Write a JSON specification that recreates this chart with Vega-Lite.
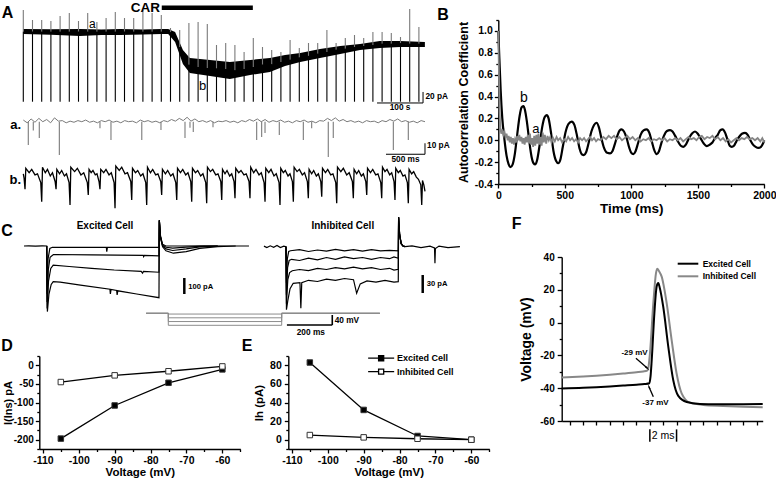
{
"$schema": "https://vega.github.io/schema/vega-lite/v6.json",
"width": 776, "height": 480,
"autosize": {"type": "none"},
"padding": 0,
"background": "#ffffff",
"config": {
  "font": "Liberation Sans",
  "view": {"stroke": null},
  "mark": {"color": "#000000"},
  "locale": {"number": {"decimal": ".", "thousands": ",", "grouping": [3], "currency": ["$", ""], "minus": "-"}},
  "axis": {"domainColor": "#000", "domainWidth": 1.4, "tickColor": "#000", "tickWidth": 1.3, "labelColor": "#000", "labelFontWeight": "bold", "titleFontWeight": "bold", "titleColor": "#000", "grid": false, "labelFlush": false, "labelOverlap": false, "labelBound": false},
  "text": {"color": "#000000", "fill": "#000000"}
},
"resolve": {"scale": {"x": "independent", "y": "independent", "fill": "independent", "stroke": "independent"}, "axis": {"x": "independent", "y": "independent"}},
"layer": [
{
  "encoding": {
    "x": {"field": "t", "type": "quantitative", "scale": {"domain": [-50.65, 1031.96], "range": [0, 498], "nice": false, "zero": false}, "axis": null},
    "y": {"field": "I", "type": "quantitative", "scale": {"domain": [-320.55, 57.64], "range": [208, 0], "nice": false, "zero": false}, "axis": null}
  },
  "layer": [
    {"data": {"values": [
      {"t":0,"I":4.9,"lo":-4.2},{"t":60,"I":4.5,"lo":-5.5},{"t":123,"I":4.9,"lo":-7.8},{"t":170,"I":4.2,"lo":-6},{"t":210,"I":4.9,"lo":-6},{"t":260,"I":4.2,"lo":-5},{"t":300,"I":4.9,"lo":-4.2},{"t":315,"I":4.9,"lo":-4.2},{"t":330,"I":-0.5,"lo":-18.7},{"t":347,"I":-33.3,"lo":-58.7},{"t":362,"I":-47.8,"lo":-75.1},{"t":406,"I":-51.5,"lo":-80.5},{"t":449,"I":-55.1,"lo":-86},{"t":493,"I":-51.5,"lo":-78.7},{"t":536,"I":-47.8,"lo":-73.3},{"t":569,"I":-42.4,"lo":-62.4},{"t":602,"I":-38.7,"lo":-55.1},{"t":645,"I":-31.5,"lo":-47.8},{"t":689,"I":-26.2,"lo":-40.5},{"t":732,"I":-22.4,"lo":-33.3},{"t":775,"I":-16.9,"lo":-29.6},{"t":819,"I":-16.9,"lo":-27.8},{"t":873,"I":-18.7,"lo":-27.8}
    ]}, "mark": {"type": "area", "color": "#000", "opacity": 1}, "encoding": {"y2": {"field": "lo"}}},
    {"data": {"values": [
      {"t":0,"I":39.5,"base":0},{"t":20,"I":21.3,"base":0},{"t":40,"I":21.3,"base":0},{"t":60,"I":19.5,"base":0},{"t":80,"I":28.5,"base":0},{"t":100,"I":34,"base":0},{"t":120,"I":19.5,"base":0},{"t":140,"I":34,"base":0},{"t":160,"I":17.6,"base":0},{"t":180,"I":24.9,"base":0},{"t":200,"I":35.8,"base":0},{"t":220,"I":24.9,"base":0},{"t":240,"I":24.9,"base":0},{"t":260,"I":39.5,"base":0},{"t":280,"I":34,"base":0},{"t":300,"I":30.4,"base":0},{"t":320,"I":6.7,"base":-1},{"t":340,"I":3.1,"base":-28},{"t":360,"I":15.8,"base":-60},{"t":380,"I":17.6,"base":-64},{"t":400,"I":14,"base":-66},{"t":420,"I":-24.2,"base":-67},{"t":440,"I":-20.5,"base":-68},{"t":460,"I":-24.2,"base":-70},{"t":480,"I":-36.9,"base":-68},{"t":500,"I":-11.5,"base":-64},{"t":520,"I":-27.8,"base":-60},{"t":540,"I":-33.3,"base":-59},{"t":560,"I":-36.9,"base":-55},{"t":580,"I":-15.1,"base":-51},{"t":600,"I":-29.6,"base":-47},{"t":620,"I":-20.5,"base":-44},{"t":640,"I":-20.5,"base":-40},{"t":660,"I":3.1,"base":-37},{"t":680,"I":-20.5,"base":-33},{"t":700,"I":-11.5,"base":-31},{"t":720,"I":-6,"base":-28},{"t":740,"I":-11.5,"base":-26},{"t":760,"I":-0.5,"base":-24},{"t":780,"I":-0.5,"base":-22},{"t":800,"I":-2.4,"base":-22},{"t":820,"I":-9.6,"base":-21},{"t":840,"I":41.3,"base":-22},{"t":860,"I":8.5,"base":-22}
    ]}, "mark": {"type": "rule", "color": "#7a7a7a", "strokeWidth": 1.1}, "encoding": {"y2": {"field": "base"}}},
    {"data": {"values": [
      {"t":0,"I":0},{"t":20,"I":0},{"t":40,"I":0},{"t":60,"I":0},{"t":80,"I":0},{"t":100,"I":0},{"t":120,"I":0},{"t":140,"I":0},{"t":160,"I":0},{"t":180,"I":0},{"t":200,"I":0},{"t":220,"I":0},{"t":240,"I":0},{"t":260,"I":0},{"t":280,"I":0},{"t":300,"I":0},{"t":320,"I":-1},{"t":340,"I":-28},{"t":360,"I":-60},{"t":380,"I":-64},{"t":400,"I":-66},{"t":420,"I":-67},{"t":440,"I":-68},{"t":460,"I":-70},{"t":480,"I":-68},{"t":500,"I":-64},{"t":520,"I":-60},{"t":540,"I":-59},{"t":560,"I":-55},{"t":580,"I":-51},{"t":600,"I":-47},{"t":620,"I":-44},{"t":640,"I":-40},{"t":660,"I":-37},{"t":680,"I":-33},{"t":700,"I":-31},{"t":720,"I":-28},{"t":740,"I":-26},{"t":760,"I":-24},{"t":780,"I":-22},{"t":800,"I":-22},{"t":820,"I":-21},{"t":840,"I":-22},{"t":860,"I":-22}
    ]}, "mark": {"type": "rule", "color": "#000", "strokeWidth": 1.1}, "encoding": {"y2": {"datum": -127.3}}},
    {"data": {"values": [{"t":301,"t2":499,"I":43.6}]}, "mark": {"type": "rule", "color": "#000", "strokeWidth": 4.5}, "encoding": {"x2": {"field": "t2"}}},
    {"data": {"values": [{"t":297,"I":43.6,"label":"CAR"}]}, "mark": {"type": "text", "color": "#000", "align": "right", "fontSize": 13.5, "fontWeight": "bold"}, "encoding": {"text": {"field": "label"}}},
    {"data": {"values": [{"t":-34.3,"I":34.9,"label":"A"},{"t":912.4,"I":30.4,"label":"B"}]}, "mark": {"type": "text", "color": "#000", "fontSize": 16, "fontWeight": "bold"}, "encoding": {"text": {"field": "label"}}},
    {"data": {"values": [{"t":150,"I":14,"label":"a"}]}, "mark": {"type": "text", "color": "#000", "fontSize": 12}, "encoding": {"text": {"field": "label"}}},
    {"data": {"values": [{"t":390,"I":-98.9,"label":"b"}]}, "mark": {"type": "text", "color": "#000", "fontSize": 13}, "encoding": {"text": {"field": "label"}}},
    {"data": {"values": [{"t":769,"I":-129.6,"t2":869,"I2":-129.6},{"t":869,"I":-129.6,"t2":869,"I2":-109.6}]}, "mark": {"type": "rule", "color": "#000", "strokeWidth": 1}, "encoding": {"x2": {"field": "t2"}, "y2": {"field": "I2"}}},
    {"data": {"values": [{"t":819,"I":-139.6,"label":"100 s"}]}, "mark": {"type": "text", "color": "#000", "fontSize": 8.3, "fontWeight": "bold"}, "encoding": {"text": {"field": "label"}}},
    {"data": {"values": [{"t":874.3,"I":-119.6,"label":"20 pA"}]}, "mark": {"type": "text", "color": "#000", "align": "left", "fontSize": 8.3, "fontWeight": "bold"}, "encoding": {"text": {"field": "label"}}}
  ]
},
{
  "encoding": {
    "x": {"field": "t", "type": "quantitative", "scale": {"domain": [-298.7, 6085.9], "range": [0, 498], "nice": false, "zero": false}, "axis": null},
    "y": {"field": "I", "type": "quantitative", "scale": {"domain": [-78.45, 110.64], "range": [208, 0], "nice": false, "zero": false}, "axis": null}
  },
  "layer": [
    {"data": {"values": [
      {"t":0,"I":1.5},{"t":50,"I":-1},{"t":100,"I":2.5},{"t":150,"I":-0.5},{"t":200,"I":3},{"t":250,"I":0},{"t":300,"I":2},{"t":350,"I":-1},{"t":400,"I":3.5},{"t":450,"I":0.5},{"t":500,"I":1},{"t":550,"I":-1},{"t":600,"I":0.5},{"t":650,"I":-0.5},{"t":700,"I":1},{"t":750,"I":0},{"t":800,"I":1.5},{"t":850,"I":-0.5},{"t":900,"I":0.5},{"t":950,"I":-1},{"t":1000,"I":1},{"t":1050,"I":0},{"t":1100,"I":1.5},{"t":1150,"I":-0.5},{"t":1200,"I":0.5},{"t":1250,"I":-1},{"t":1300,"I":1},{"t":1350,"I":0},{"t":1400,"I":0.5},{"t":1450,"I":-1},{"t":1500,"I":1.5},{"t":1550,"I":0},{"t":1600,"I":1},{"t":1650,"I":-0.5},{"t":1700,"I":0.5},{"t":1750,"I":-1},{"t":1800,"I":1},{"t":1850,"I":0},{"t":1900,"I":2},{"t":1950,"I":0.5},{"t":2000,"I":3},{"t":2050,"I":1},{"t":2100,"I":4},{"t":2150,"I":0.5},{"t":2200,"I":2.5},{"t":2250,"I":0},{"t":2300,"I":1},{"t":2350,"I":-0.5},{"t":2400,"I":1},{"t":2450,"I":-1},{"t":2500,"I":0.5},{"t":2550,"I":0},{"t":2600,"I":1},{"t":2650,"I":-0.5},{"t":2700,"I":0.5},{"t":2750,"I":-1},{"t":2800,"I":1},{"t":2850,"I":0},{"t":2900,"I":2},{"t":2950,"I":0.5},{"t":3000,"I":2.5},{"t":3050,"I":0},{"t":3100,"I":2},{"t":3150,"I":-0.5},{"t":3200,"I":1},{"t":3250,"I":0},{"t":3300,"I":1.5},{"t":3350,"I":-0.5},{"t":3400,"I":0.5},{"t":3450,"I":-1},{"t":3500,"I":1},{"t":3550,"I":0},{"t":3600,"I":1.5},{"t":3650,"I":-0.5},{"t":3700,"I":0.5},{"t":3750,"I":-1},{"t":3800,"I":1},{"t":3850,"I":0.5},{"t":3900,"I":3},{"t":3950,"I":1},{"t":4000,"I":3.5},{"t":4050,"I":0.5},{"t":4100,"I":2},{"t":4150,"I":0},{"t":4200,"I":1},{"t":4250,"I":-0.5},{"t":4300,"I":0.5},{"t":4350,"I":-1},{"t":4400,"I":1},{"t":4450,"I":0},{"t":4500,"I":0.5},{"t":4550,"I":-1},{"t":4600,"I":1},{"t":4650,"I":0},{"t":4700,"I":2},{"t":4750,"I":0.5},{"t":4800,"I":2.5},{"t":4850,"I":0},{"t":4900,"I":1},{"t":4950,"I":-0.5},{"t":5000,"I":0.5},{"t":5050,"I":-1},{"t":5100,"I":1},{"t":5150,"I":0}
    ]}, "mark": {"type": "line", "color": "#7a7a7a", "strokeWidth": 1}},
    {"data": {"values": [
      {"t":64,"I":-21.2},{"t":128,"I":-8},{"t":205,"I":-14.8},{"t":462,"I":-30.3},{"t":983,"I":-6},{"t":1124,"I":-16.6},{"t":1519,"I":-16.6},{"t":1765,"I":-7.5},{"t":2073,"I":-14.8},{"t":2137,"I":-5.5},{"t":2179,"I":-9.4},{"t":2432,"I":-5},{"t":2992,"I":-16.6},{"t":3056,"I":-13.9},{"t":3099,"I":-10.3},{"t":3282,"I":-12.1},{"t":3590,"I":-16.6},{"t":3697,"I":-6},{"t":3910,"I":-32.1},{"t":3974,"I":-14.8},{"t":4744,"I":-25.7},{"t":4936,"I":-16.6}
    ]}, "mark": {"type": "rule", "color": "#7a7a7a", "strokeWidth": 1.1}, "encoding": {"y2": {"datum": 0}}},
    {"data": {"values": [{"t":-29.5,"I":-3,"label":"a."}]}, "mark": {"type": "text", "color": "#000", "align": "right", "fontSize": 13, "fontWeight": "bold"}, "encoding": {"text": {"field": "label"}}},
    {"data": {"values": [{"t":4650,"I":-29.6,"t2":5150,"I2":-29.6},{"t":5150,"I":-29.6,"t2":5150,"I2":-19.6}]}, "mark": {"type": "rule", "color": "#000", "strokeWidth": 1}, "encoding": {"x2": {"field": "t2"}, "y2": {"field": "I2"}}},
    {"data": {"values": [{"t":4900,"I":-34.4,"label":"500 ms"}]}, "mark": {"type": "text", "color": "#000", "fontSize": 8.3, "fontWeight": "bold"}, "encoding": {"text": {"field": "label"}}},
    {"data": {"values": [{"t":5176,"I":-22.1,"label":"10 pA"}]}, "mark": {"type": "text", "color": "#000", "align": "left", "fontSize": 8.3, "fontWeight": "bold"}, "encoding": {"text": {"field": "label"}}}
  ]
},
{
  "encoding": {
    "x": {"field": "t", "type": "quantitative", "scale": {"domain": [-298.7, 6085.9], "range": [0, 498], "nice": false, "zero": false}, "axis": null},
    "y": {"field": "I", "type": "quantitative", "scale": {"domain": [-29.09, 160], "range": [208, 0], "nice": false, "zero": false}, "axis": null}
  },
  "layer": [
    {"data": {"values": [
      {"t":0,"I":2},{"t":10,"I":-2},{"t":22,"I":-12},
      {"t":32,"I":7},{"t":75,"I":3},{"t":108,"I":6},{"t":150,"I":1},{"t":182,"I":2},{"t":224,"I":-6},{"t":236,"I":-23.4},
      {"t":246,"I":8},{"t":282,"I":3},{"t":310,"I":6},{"t":346,"I":0},{"t":374,"I":3},{"t":408,"I":-5},{"t":420,"I":-12},
      {"t":430,"I":6},{"t":465,"I":2},{"t":492,"I":5},{"t":527,"I":0},{"t":554,"I":2},{"t":587,"I":-6},{"t":599,"I":-26.4},
      {"t":609,"I":8},{"t":658,"I":4},{"t":693,"I":7},{"t":739,"I":1},{"t":775,"I":3},{"t":821,"I":-6},{"t":833,"I":-17.3},
      {"t":843,"I":6},{"t":870,"I":3},{"t":893,"I":5},{"t":923,"I":1},{"t":945,"I":2},{"t":971,"I":-5},{"t":983,"I":-12},
      {"t":993,"I":6},{"t":1031,"I":3},{"t":1060,"I":6},{"t":1099,"I":1},{"t":1128,"I":3},{"t":1164,"I":-6},{"t":1176,"I":-29.4},
      {"t":1186,"I":9},{"t":1230,"I":5},{"t":1262,"I":8},{"t":1304,"I":2},{"t":1336,"I":3},{"t":1378,"I":-5},{"t":1390,"I":-21.8},
      {"t":1400,"I":7},{"t":1438,"I":3},{"t":1467,"I":5},{"t":1505,"I":0},{"t":1534,"I":2},{"t":1570,"I":-6},{"t":1582,"I":-26.4},
      {"t":1592,"I":8},{"t":1630,"I":3},{"t":1659,"I":6},{"t":1697,"I":1},{"t":1726,"I":2},{"t":1762,"I":-5},{"t":1774,"I":-17.3},
      {"t":1784,"I":6},{"t":1822,"I":2},{"t":1851,"I":5},{"t":1890,"I":0},{"t":1919,"I":2},{"t":1955,"I":-6},{"t":1967,"I":-21.8},
      {"t":1977,"I":7},{"t":2015,"I":3},{"t":2044,"I":6},{"t":2082,"I":1},{"t":2111,"I":3},{"t":2147,"I":-5},{"t":2159,"I":-23.4},
      {"t":2169,"I":7},{"t":2207,"I":3},{"t":2236,"I":5},{"t":2274,"I":0},{"t":2303,"I":2},{"t":2339,"I":-6},{"t":2351,"I":-24.8},
      {"t":2361,"I":8},{"t":2399,"I":4},{"t":2428,"I":6},{"t":2467,"I":1},{"t":2496,"I":2},{"t":2532,"I":-5},{"t":2544,"I":-21.8},
      {"t":2554,"I":6},{"t":2586,"I":2},{"t":2612,"I":5},{"t":2646,"I":0},{"t":2672,"I":2},{"t":2702,"I":-5},{"t":2714,"I":-20.3},
      {"t":2724,"I":7},{"t":2762,"I":3},{"t":2791,"I":5},{"t":2829,"I":1},{"t":2858,"I":2},{"t":2894,"I":-5},{"t":2906,"I":-20.3},
      {"t":2916,"I":8},{"t":2954,"I":3},{"t":2983,"I":6},{"t":3022,"I":1},{"t":3051,"I":3},{"t":3087,"I":-6},{"t":3099,"I":-23.4},
      {"t":3109,"I":7},{"t":3147,"I":3},{"t":3176,"I":6},{"t":3214,"I":0},{"t":3243,"I":2},{"t":3279,"I":-6},{"t":3291,"I":-26.4},
      {"t":3301,"I":7},{"t":3334,"I":3},{"t":3359,"I":5},{"t":3394,"I":0},{"t":3419,"I":2},{"t":3450,"I":-5},{"t":3462,"I":-23.4},
      {"t":3472,"I":8},{"t":3510,"I":4},{"t":3539,"I":6},{"t":3577,"I":1},{"t":3606,"I":3},{"t":3642,"I":-5},{"t":3654,"I":-20.3},
      {"t":3664,"I":6},{"t":3697,"I":2},{"t":3723,"I":5},{"t":3757,"I":0},{"t":3783,"I":2},{"t":3814,"I":-5},{"t":3826,"I":-18.8},
      {"t":3836,"I":7},{"t":3874,"I":3},{"t":3903,"I":6},{"t":3941,"I":1},{"t":3970,"I":2},{"t":4006,"I":-6},{"t":4018,"I":-24.8},
      {"t":4028,"I":8},{"t":4071,"I":4},{"t":4103,"I":7},{"t":4146,"I":1},{"t":4178,"I":3},{"t":4219,"I":-5},{"t":4231,"I":-20.3},
      {"t":4241,"I":6},{"t":4274,"I":2},{"t":4300,"I":5},{"t":4334,"I":0},{"t":4360,"I":2},{"t":4391,"I":-5},{"t":4403,"I":-17.3},
      {"t":4413,"I":7},{"t":4451,"I":3},{"t":4480,"I":6},{"t":4518,"I":1},{"t":4547,"I":2},{"t":4583,"I":-6},{"t":4595,"I":-20.3},
      {"t":4605,"I":8},{"t":4637,"I":4},{"t":4663,"I":6},{"t":4697,"I":1},{"t":4723,"I":3},{"t":4753,"I":-5},{"t":4765,"I":-21.8},
      {"t":4775,"I":7},{"t":4808,"I":3},{"t":4833,"I":5},{"t":4868,"I":0},{"t":4893,"I":1},{"t":4924,"I":-6},{"t":4936,"I":-24.8},
      {"t":4946,"I":6},{"t":4979,"I":2},{"t":5005,"I":4},{"t":5039,"I":-1},{"t":5066,"I":-3},{"t":5096,"I":-8},{"t":5108,"I":-26.4},
      {"t":5118,"I":-4},{"t":5135,"I":-8},{"t":5150,"I":-14}
    ]}, "mark": {"type": "line", "color": "#000", "strokeWidth": 1.3}},
    {"data": {"values": [{"t":-29.5,"I":-3.6,"label":"b."}]}, "mark": {"type": "text", "color": "#000", "align": "right", "fontSize": 13, "fontWeight": "bold"}, "encoding": {"text": {"field": "label"}}}
  ]
},
{
  "encoding": {
    "x": {"field": "t", "type": "quantitative", "scale": {"domain": [-207.56, 2005.78], "range": [0, 498], "nice": false, "zero": false}, "axis": null},
    "y": {"field": "I", "type": "quantitative", "scale": {"domain": [-687.5, 237.5], "range": [356, 208], "nice": false, "zero": false}, "axis": null}
  },
  "layer": [
    {"data": {"values": [
      {"s":"e1","t":-101,"I":0},{"s":"e1","t":-80,"I":0.6},{"s":"e1","t":-50,"I":-0.6},{"s":"e1","t":-20,"I":0.5},{"s":"e1","t":0,"I":0},{"s":"e1","t":2,"I":-300},{"s":"e1","t":6,"I":-80},{"s":"e1","t":14,"I":-15},{"s":"e1","t":25,"I":-8},{"s":"e1","t":150,"I":-8},{"s":"e1","t":265,"I":-8},{"s":"e1","t":267,"I":-35},{"s":"e1","t":270,"I":-8},{"s":"e1","t":400,"I":-9},{"s":"e1","t":499,"I":-9},{"s":"e1","t":500.5,"I":160},{"s":"e1","t":506,"I":60},{"s":"e1","t":515,"I":10},{"s":"e1","t":530,"I":0},{"s":"e1","t":600,"I":0},{"s":"e1","t":700,"I":1},{"s":"e1","t":800,"I":0},{"s":"e1","t":899,"I":0},
      {"s":"e2","t":0,"I":0},{"s":"e2","t":2,"I":-350},{"s":"e2","t":7,"I":-150},{"s":"e2","t":15,"I":-70},{"s":"e2","t":30,"I":-53},{"s":"e2","t":200,"I":-55},{"s":"e2","t":429,"I":-58},{"s":"e2","t":431,"I":-67},{"s":"e2","t":434,"I":-58},{"s":"e2","t":499,"I":-61},{"s":"e2","t":500.5,"I":160},{"s":"e2","t":506,"I":55},{"s":"e2","t":515,"I":5},{"s":"e2","t":530,"I":-8},{"s":"e2","t":560,"I":-13},{"s":"e2","t":620,"I":-7},{"s":"e2","t":680,"I":-2},{"s":"e2","t":760,"I":0},
      {"s":"e3","t":0,"I":0},{"s":"e3","t":2,"I":-390},{"s":"e3","t":8,"I":-220},{"s":"e3","t":18,"I":-140},{"s":"e3","t":29,"I":-119},{"s":"e3","t":100,"I":-128},{"s":"e3","t":200,"I":-140},{"s":"e3","t":300,"I":-150},{"s":"e3","t":420,"I":-158},{"s":"e3","t":426,"I":-170},{"s":"e3","t":430,"I":-159},{"s":"e3","t":499,"I":-164},{"s":"e3","t":500.5,"I":160},{"s":"e3","t":506,"I":50},{"s":"e3","t":515,"I":0},{"s":"e3","t":530,"I":-18},{"s":"e3","t":560,"I":-28},{"s":"e3","t":620,"I":-18},{"s":"e3","t":680,"I":-6},{"s":"e3","t":760,"I":-1},
      {"s":"e4","t":0,"I":0},{"s":"e4","t":3,"I":-410},{"s":"e4","t":10,"I":-300},{"s":"e4","t":20,"I":-240},{"s":"e4","t":29,"I":-223},{"s":"e4","t":60,"I":-226},{"s":"e4","t":150,"I":-245},{"s":"e4","t":281,"I":-270},{"s":"e4","t":283,"I":-300},{"s":"e4","t":286,"I":-272},{"s":"e4","t":311,"I":-278},{"s":"e4","t":313,"I":-306},{"s":"e4","t":316,"I":-280},{"s":"e4","t":400,"I":-300},{"s":"e4","t":499,"I":-323},{"s":"e4","t":500.5,"I":162},{"s":"e4","t":506,"I":55},{"s":"e4","t":515,"I":-5},{"s":"e4","t":530,"I":-30},{"s":"e4","t":563,"I":-45},{"s":"e4","t":620,"I":-35},{"s":"e4","t":680,"I":-15},{"s":"e4","t":760,"I":-4},{"s":"e4","t":840,"I":0}
    ]}, "mark": {"type": "line", "color": "#000", "strokeWidth": 1.2}, "encoding": {"detail": {"field": "s"}}},
    {"data": {"values": [{"t":259.1,"I":125,"label":"Excited Cell"}]}, "mark": {"type": "text", "color": "#000", "fontSize": 10, "fontWeight": "bold"}, "encoding": {"text": {"field": "label"}}},
    {"data": {"values": [{"t":-176.4,"I":93.75,"label":"C"},{"t":-176.4,"I":-625,"label":"D"},{"t":890.2,"I":-625,"label":"E"}]}, "mark": {"type": "text", "color": "#000", "fontSize": 16, "fontWeight": "bold"}, "encoding": {"text": {"field": "label"}}},
    {"data": {"values": [{"t":611.6,"I":-200,"I2":-300}]}, "mark": {"type": "rule", "color": "#000", "strokeWidth": 2.5}, "encoding": {"y2": {"field": "I2"}}},
    {"data": {"values": [{"t":629.3,"I":-254.4,"label":"100 pA"}]}, "mark": {"type": "text", "color": "#000", "align": "left", "fontSize": 7.6, "fontWeight": "bold"}, "encoding": {"text": {"field": "label"}}}
  ]
},
{
  "encoding": {
    "x": {"field": "t", "type": "quantitative", "scale": {"domain": [-1271.1, 942.2], "range": [0, 498], "nice": false, "zero": false}, "axis": null},
    "y": {"field": "I", "type": "quantitative", "scale": {"domain": [-182.17, 64.5], "range": [356, 208], "nice": false, "zero": false}, "axis": null}
  },
  "layer": [
    {"data": {"values": [
      {"s":"i1","t":-98,"I":1},{"s":"i1","t":-85,"I":-1.5},{"s":"i1","t":-70,"I":1.5},{"s":"i1","t":-55,"I":-1},{"s":"i1","t":-40,"I":2},{"s":"i1","t":-25,"I":-1.5},{"s":"i1","t":-10,"I":1},{"s":"i1","t":0,"I":0},{"s":"i1","t":2,"I":-60},{"s":"i1","t":6,"I":-20},{"s":"i1","t":12,"I":-8},{"s":"i1","t":20,"I":-6.7},{"s":"i1","t":60,"I":-5},{"s":"i1","t":100,"I":-8},{"s":"i1","t":140,"I":-5.5},{"s":"i1","t":180,"I":-7.5},{"s":"i1","t":220,"I":-4.5},{"s":"i1","t":260,"I":-7},{"s":"i1","t":300,"I":-5},{"s":"i1","t":340,"I":-7.5},{"s":"i1","t":380,"I":-5},{"s":"i1","t":420,"I":-7},{"s":"i1","t":460,"I":-6},{"s":"i1","t":499,"I":-7},{"s":"i1","t":500.5,"I":49},{"s":"i1","t":505,"I":20},{"s":"i1","t":512,"I":5},{"s":"i1","t":520,"I":1},{"s":"i1","t":529,"I":0},{"s":"i1","t":560,"I":1.5},{"s":"i1","t":600,"I":-1.5},{"s":"i1","t":640,"I":1},{"s":"i1","t":660,"I":-2},{"s":"i1","t":662,"I":-27.7},{"s":"i1","t":664,"I":-3},{"s":"i1","t":680,"I":1},{"s":"i1","t":720,"I":-1.5},{"s":"i1","t":773,"I":0},
      {"s":"i2","t":0,"I":0},{"s":"i2","t":2,"I":-80},{"s":"i2","t":7,"I":-35},{"s":"i2","t":14,"I":-23},{"s":"i2","t":25,"I":-21},{"s":"i2","t":60,"I":-23},{"s":"i2","t":100,"I":-19},{"s":"i2","t":140,"I":-22},{"s":"i2","t":180,"I":-18},{"s":"i2","t":220,"I":-21},{"s":"i2","t":260,"I":-17},{"s":"i2","t":300,"I":-20},{"s":"i2","t":340,"I":-18},{"s":"i2","t":380,"I":-21},{"s":"i2","t":420,"I":-18},{"s":"i2","t":460,"I":-20},{"s":"i2","t":480,"I":-17},{"s":"i2","t":499,"I":-19.3},{"s":"i2","t":500.5,"I":49},{"s":"i2","t":505,"I":20},{"s":"i2","t":512,"I":5},{"s":"i2","t":520,"I":1},{"s":"i2","t":529,"I":0},
      {"s":"i3","t":0,"I":0},{"s":"i3","t":2,"I":-95},{"s":"i3","t":8,"I":-55},{"s":"i3","t":16,"I":-43},{"s":"i3","t":28,"I":-40},{"s":"i3","t":60,"I":-38},{"s":"i3","t":100,"I":-40},{"s":"i3","t":140,"I":-36},{"s":"i3","t":180,"I":-38},{"s":"i3","t":220,"I":-35},{"s":"i3","t":260,"I":-37},{"s":"i3","t":300,"I":-34},{"s":"i3","t":340,"I":-37},{"s":"i3","t":380,"I":-35},{"s":"i3","t":420,"I":-38},{"s":"i3","t":460,"I":-36},{"s":"i3","t":480,"I":-39},{"s":"i3","t":499,"I":-37.7},{"s":"i3","t":500.5,"I":49},{"s":"i3","t":505,"I":20},{"s":"i3","t":512,"I":5},{"s":"i3","t":520,"I":1},{"s":"i3","t":529,"I":0},
      {"s":"i4","t":0,"I":0},{"s":"i4","t":2,"I":-105},{"s":"i4","t":8,"I":-90},{"s":"i4","t":18,"I":-70},{"s":"i4","t":32,"I":-61},{"s":"i4","t":62,"I":-60},{"s":"i4","t":66,"I":-102.7},{"s":"i4","t":70,"I":-60},{"s":"i4","t":100,"I":-56},{"s":"i4","t":140,"I":-58},{"s":"i4","t":180,"I":-54},{"s":"i4","t":220,"I":-56},{"s":"i4","t":260,"I":-53},{"s":"i4","t":300,"I":-55},{"s":"i4","t":314,"I":-77.7},{"s":"i4","t":330,"I":-62},{"s":"i4","t":360,"I":-57},{"s":"i4","t":400,"I":-59},{"s":"i4","t":440,"I":-56},{"s":"i4","t":480,"I":-59},{"s":"i4","t":499,"I":-58.3},{"s":"i4","t":500.5,"I":49},{"s":"i4","t":505,"I":20},{"s":"i4","t":512,"I":5},{"s":"i4","t":520,"I":1},{"s":"i4","t":529,"I":0}
    ]}, "mark": {"type": "line", "color": "#000", "strokeWidth": 1.2}, "encoding": {"detail": {"field": "s"}}},
    {"data": {"values": [{"t":252.4,"I":34.5,"label":"Inhibited Cell"}]}, "mark": {"type": "text", "color": "#000", "fontSize": 10, "fontWeight": "bold"}, "encoding": {"text": {"field": "label"}}},
    {"data": {"values": [{"t":607.6,"I":-47.2,"I2":-77.2}]}, "mark": {"type": "rule", "color": "#000", "strokeWidth": 2.5}, "encoding": {"y2": {"field": "I2"}}},
    {"data": {"values": [{"t":625.3,"I":-62.2,"label":"30 pA"}]}, "mark": {"type": "text", "color": "#000", "align": "left", "fontSize": 7.6, "fontWeight": "bold"}, "encoding": {"text": {"field": "label"}}}
  ]
},
{
  "encoding": {
    "x": {"field": "t", "type": "quantitative", "scale": {"domain": [-742.06, 1453.7], "range": [0, 498], "nice": false, "zero": false}, "axis": null},
    "y": {"field": "V", "type": "quantitative", "scale": {"domain": [-227.8, 364.2], "range": [356, 208], "nice": false, "zero": false}, "axis": null}
  },
  "layer": [
    {"data": {"values": [
      {"s":-60,"t":-98,"V":-57},{"s":-60,"t":0,"V":-57},{"s":-60,"t":0.01,"V":-60},{"s":-60,"t":500,"V":-60},{"s":-60,"t":500.01,"V":-57},{"s":-60,"t":933,"V":-57},
      {"s":-75,"t":-98,"V":-57},{"s":-75,"t":0,"V":-57},{"s":-75,"t":0.01,"V":-75},{"s":-75,"t":500,"V":-75},{"s":-75,"t":500.01,"V":-57},{"s":-75,"t":933,"V":-57},
      {"s":-90,"t":-98,"V":-57},{"s":-90,"t":0,"V":-57},{"s":-90,"t":0.01,"V":-90},{"s":-90,"t":500,"V":-90},{"s":-90,"t":500.01,"V":-57},{"s":-90,"t":933,"V":-57},
      {"s":-105,"t":-98,"V":-57},{"s":-105,"t":0,"V":-57},{"s":-105,"t":0.01,"V":-105},{"s":-105,"t":500,"V":-105},{"s":-105,"t":500.01,"V":-57},{"s":-105,"t":933,"V":-57}
    ]}, "mark": {"type": "line", "color": "#8c8c8c", "strokeWidth": 1}, "encoding": {"detail": {"field": "s"}}},
    {"data": {"values": [{"t":523,"V":-103.8,"t2":723,"V2":-103.8},{"t":723,"V":-103.8,"t2":723,"V2":-63.8}]}, "mark": {"type": "rule", "color": "#000", "strokeWidth": 1.6}, "encoding": {"x2": {"field": "t2"}, "y2": {"field": "V2"}}},
    {"data": {"values": [{"t":733.7,"V":-86.6,"label":"40 mV"}]}, "mark": {"type": "text", "color": "#000", "align": "left", "fontSize": 8.3, "fontWeight": "bold"}, "encoding": {"text": {"field": "label"}}},
    {"data": {"values": [{"t":628.3,"V":-137,"label":"200 ms"}]}, "mark": {"type": "text", "color": "#000", "fontSize": 8.3, "fontWeight": "bold"}, "encoding": {"text": {"field": "label"}}}
  ]
},
{
  "encoding": {
    "x": {"field": "t", "type": "quantitative", "scale": {"domain": [0, 2000], "range": [498.3, 764.3], "nice": false, "zero": false},
      "axis": {"orient": "bottom", "offset": -296, "title": "Time (ms)", "values": [0,250,500,750,1000,1250,1500,1750,2000], "format": "d", "labelExpr": "datum.value % 500 === 0 ? datum.label : ''", "tickSize": {"condition": {"test": "datum.value % 500 === 0", "value": 4}, "value": 2.5}, "labelFontSize": 10.5, "titleFontSize": 13.5, "labelPadding": 2, "titlePadding": 1}},
    "y": {"field": "r", "type": "quantitative", "scale": {"domain": [-0.4, 1.1], "range": [184, 20], "nice": false, "zero": false},
      "axis": {"orient": "left", "offset": -498.3, "title": "Autocorrelation Coefficient", "values": [-0.4,-0.3,-0.2,-0.1,0,0.1,0.2,0.3,0.4,0.5,0.6,0.7,0.8,0.9,1.0,1.1], "format": ".1f", "labelExpr": "round(datum.value*10) % 2 === 0 ? datum.label : ''", "tickSize": {"condition": {"test": "round(datum.value*10) % 2 === 0", "value": 4}, "value": 2.5}, "labelFontSize": 10.5, "titleFontSize": 12.5, "labelPadding": 2, "titlePadding": 4}}
  },
  "layer": [
    {"data": {"values": [
      {"t":0,"r":1.0},{"t":8,"r":0.75},{"t":18,"r":0.45},{"t":30,"r":0.2},{"t":45,"r":0.02},{"t":62,"r":-0.14},{"t":78,"r":-0.22},{"t":92,"r":-0.245},{"t":108,"r":-0.22},{"t":125,"r":-0.12},{"t":142,"r":0.05},{"t":160,"r":0.22},{"t":175,"r":0.3},{"t":188,"r":0.312},{"t":200,"r":0.28},{"t":215,"r":0.17},{"t":232,"r":0.0},{"t":250,"r":-0.15},{"t":265,"r":-0.21},{"t":278,"r":-0.22},{"t":292,"r":-0.18},{"t":310,"r":-0.05},{"t":330,"r":0.12},{"t":348,"r":0.21},{"t":364,"r":0.23},{"t":378,"r":0.2},{"t":395,"r":0.08},{"t":415,"r":-0.1},{"t":435,"r":-0.19},{"t":451,"r":-0.21},{"t":466,"r":-0.18},{"t":485,"r":-0.06},{"t":505,"r":0.07},{"t":528,"r":0.15},{"t":552,"r":0.17},{"t":572,"r":0.14},{"t":592,"r":0.04},{"t":612,"r":-0.08},{"t":630,"r":-0.13},{"t":644,"r":-0.135},{"t":660,"r":-0.11},{"t":680,"r":-0.02},{"t":700,"r":0.08},{"t":720,"r":0.14},{"t":739,"r":0.16},{"t":756,"r":0.12},{"t":775,"r":0.02},{"t":795,"r":-0.07},{"t":818,"r":-0.115},{"t":840,"r":-0.12},{"t":858,"r":-0.1},{"t":875,"r":-0.04},{"t":895,"r":0.04},{"t":912,"r":0.09},{"t":928,"r":0.1},{"t":945,"r":0.08},{"t":965,"r":0.02},{"t":985,"r":-0.07},{"t":1000,"r":-0.115},{"t":1015,"r":-0.126},{"t":1032,"r":-0.1},{"t":1050,"r":-0.03},{"t":1070,"r":0.05},{"t":1092,"r":0.09},{"t":1116,"r":0.1},{"t":1135,"r":0.07},{"t":1152,"r":0.0},{"t":1170,"r":-0.08},{"t":1191,"r":-0.126},{"t":1208,"r":-0.1},{"t":1225,"r":-0.03},{"t":1245,"r":0.04},{"t":1268,"r":0.085},{"t":1291,"r":0.093},{"t":1310,"r":0.08},{"t":1330,"r":0.04},{"t":1350,"r":-0.01},{"t":1372,"r":-0.05},{"t":1391,"r":-0.06},{"t":1410,"r":-0.04},{"t":1430,"r":0.01},{"t":1455,"r":0.06},{"t":1479,"r":0.08},{"t":1500,"r":0.06},{"t":1520,"r":0.02},{"t":1545,"r":-0.03},{"t":1567,"r":-0.053},{"t":1590,"r":-0.04},{"t":1610,"r":-0.02},{"t":1630,"r":0.02},{"t":1650,"r":0.05},{"t":1668,"r":0.09},{"t":1687,"r":0.1},{"t":1705,"r":0.07},{"t":1722,"r":0.01},{"t":1740,"r":-0.05},{"t":1755,"r":-0.06},{"t":1772,"r":-0.05},{"t":1790,"r":-0.01},{"t":1810,"r":0.03},{"t":1832,"r":0.06},{"t":1855,"r":0.068},{"t":1875,"r":0.05},{"t":1895,"r":0.0},{"t":1915,"r":-0.04},{"t":1935,"r":-0.06},{"t":1955,"r":-0.07},{"t":1975,"r":-0.06},{"t":1990,"r":-0.03},{"t":2000,"r":0.0}
    ]}, "mark": {"type": "line", "color": "#000", "strokeWidth": 2.2, "interpolate": "monotone"}},
    {"data": {"values": [
      {"t":0,"r":1.0},{"t":5,"r":0.6},{"t":10,"r":0.25},{"t":15,"r":0.12},{"t":22,"r":0.06},{"t":30,"r":0.1},{"t":38,"r":0.05},{"t":46,"r":0.08},{"t":54,"r":0.03},{"t":62,"r":0.06},{"t":70,"r":0.0},{"t":78,"r":0.04},{"t":86,"r":-0.02},{"t":94,"r":0.03},{"t":102,"r":-0.03},{"t":110,"r":0.02},{"t":118,"r":-0.04},{"t":126,"r":0.01},{"t":134,"r":-0.02},{"t":142,"r":0.04},{"t":150,"r":0.0},{"t":158,"r":0.05},{"t":166,"r":-0.01},{"t":174,"r":0.03},{"t":182,"r":-0.03},{"t":190,"r":0.02},{"t":198,"r":-0.04},{"t":206,"r":0.03},{"t":214,"r":-0.02},{"t":222,"r":0.05},{"t":230,"r":-0.03},{"t":238,"r":0.06},{"t":246,"r":-0.04},{"t":254,"r":0.02},{"t":262,"r":-0.06},{"t":270,"r":0.04},{"t":278,"r":-0.05},{"t":286,"r":0.05},{"t":294,"r":-0.03},{"t":302,"r":0.06},{"t":310,"r":-0.04},{"t":318,"r":0.03},{"t":326,"r":-0.05},{"t":334,"r":0.07},{"t":342,"r":-0.02},{"t":350,"r":0.05},{"t":360,"r":-0.03},{"t":370,"r":0.04},{"t":380,"r":0.0},{"t":390,"r":0.03},{"t":400,"r":-0.02},{"t":412,"r":0.02},{"t":425,"r":-0.01},{"t":438,"r":0.03},{"t":450,"r":0.0},{"t":465,"r":0.02},{"t":480,"r":-0.02},{"t":495,"r":0.01},{"t":510,"r":-0.01},{"t":525,"r":0.03},{"t":540,"r":0.0},{"t":555,"r":0.02},{"t":570,"r":-0.01},{"t":585,"r":0.01},{"t":600,"r":-0.02},{"t":615,"r":0.02},{"t":630,"r":0.0},{"t":645,"r":0.02},{"t":660,"r":-0.01},{"t":675,"r":0.01},{"t":690,"r":0.03},{"t":705,"r":0.0},{"t":720,"r":0.02},{"t":735,"r":-0.01},{"t":750,"r":0.01},{"t":770,"r":0.0},{"t":790,"r":0.03},{"t":810,"r":0.01},{"t":830,"r":0.04},{"t":850,"r":0.02},{"t":870,"r":0.04},{"t":890,"r":0.01},{"t":910,"r":0.03},{"t":930,"r":0.0},{"t":950,"r":0.02},{"t":970,"r":0.04},{"t":990,"r":0.01},{"t":1010,"r":0.03},{"t":1030,"r":0.0},{"t":1050,"r":0.02},{"t":1070,"r":-0.01},{"t":1090,"r":0.01},{"t":1110,"r":0.0},{"t":1130,"r":0.02},{"t":1150,"r":-0.01},{"t":1170,"r":0.01},{"t":1190,"r":0.0},{"t":1210,"r":0.02},{"t":1230,"r":0.0},{"t":1250,"r":0.02},{"t":1270,"r":-0.01},{"t":1290,"r":0.01},{"t":1310,"r":0.0},{"t":1330,"r":0.02},{"t":1350,"r":0.0},{"t":1370,"r":0.02},{"t":1390,"r":-0.01},{"t":1410,"r":0.01},{"t":1430,"r":0.03},{"t":1450,"r":0.01},{"t":1470,"r":0.02},{"t":1490,"r":0.0},{"t":1510,"r":0.03},{"t":1530,"r":0.04},{"t":1550,"r":0.01},{"t":1570,"r":0.03},{"t":1590,"r":0.02},{"t":1610,"r":0.04},{"t":1630,"r":0.01},{"t":1650,"r":0.03},{"t":1670,"r":0.0},{"t":1690,"r":0.02},{"t":1710,"r":-0.01},{"t":1730,"r":0.01},{"t":1750,"r":-0.02},{"t":1770,"r":0.0},{"t":1790,"r":0.02},{"t":1810,"r":0.0},{"t":1830,"r":0.02},{"t":1850,"r":0.01},{"t":1870,"r":0.03},{"t":1890,"r":0.01},{"t":1910,"r":0.02},{"t":1930,"r":0.0},{"t":1950,"r":0.02},{"t":1970,"r":-0.01},{"t":1985,"r":0.02},{"t":2000,"r":-0.02}
    ]}, "mark": {"type": "line", "color": "#858585", "strokeWidth": 1.8}},
    {"data": {"values": [{"t":193,"r":0.385,"label":"b"}]}, "mark": {"type": "text", "color": "#000", "fontSize": 14}, "encoding": {"text": {"field": "label"}}},
    {"data": {"values": [{"t":283,"r":0.1,"label":"a"}]}, "mark": {"type": "text", "color": "#000", "fontSize": 13}, "encoding": {"text": {"field": "label"}}},
    {"data": {"values": [{"t":138,"r":-0.766,"label":"F"}]}, "mark": {"type": "text", "color": "#000", "fontSize": 16, "fontWeight": "bold"}, "encoding": {"text": {"field": "label"}}}
  ]
},
{
  "data": {"values": [
    {"cell":"Excited Cell","v":-105,"i":-197},{"cell":"Excited Cell","v":-90,"i":-108},{"cell":"Excited Cell","v":-75,"i":-47},{"cell":"Excited Cell","v":-60,"i":-11},
    {"cell":"Inhibited Cell","v":-105,"i":-45},{"cell":"Inhibited Cell","v":-90,"i":-27},{"cell":"Inhibited Cell","v":-75,"i":-16},{"cell":"Inhibited Cell","v":-60,"i":-3}
  ]},
  "encoding": {
    "x": {"field": "v", "type": "quantitative", "scale": {"domain": [-111, -55], "range": [39.3, 240.3], "nice": false, "zero": false},
      "axis": {"orient": "bottom", "offset": -31, "title": "Voltage (mV)", "values": [-110,-105,-100,-95,-90,-85,-80,-75,-70,-65,-60,-55], "format": "d", "labelExpr": "datum.value % 10 === 0 ? datum.label : ''", "tickSize": {"condition": {"test": "datum.value % 10 === 0", "value": 4}, "value": 2.5}, "labelFontSize": 10.5, "titleFontSize": 11.5, "labelPadding": 2, "titlePadding": 1}},
    "y": {"field": "i", "type": "quantitative", "scale": {"domain": [-225, 25], "range": [449, 356], "nice": false, "zero": false},
      "axis": {"orient": "left", "offset": -39.3, "title": "I(Ins) pA", "values": [-225,-200,-175,-150,-125,-100,-75,-50,-25,0,25], "format": "d", "labelExpr": "datum.value % 50 === 0 ? datum.label : ''", "tickSize": {"condition": {"test": "datum.value % 50 === 0", "value": 4}, "value": 2.5}, "labelFontSize": 10, "titleFontSize": 11, "labelPadding": 2, "titlePadding": 0}}
  },
  "layer": [
    {"mark": {"type": "line", "color": "#000", "strokeWidth": 1.3}, "encoding": {"detail": {"field": "cell"}}},
    {"mark": {"type": "point", "shape": "square", "size": 30, "filled": true, "stroke": "#333", "strokeWidth": 1, "opacity": 1},
     "encoding": {"fill": {"field": "cell", "type": "nominal", "scale": {"domain": ["Excited Cell", "Inhibited Cell"], "range": ["#000000", "#ffffff"]}, "legend": null}}}
  ]
},
{
  "data": {"values": [
    {"cell":"Excited Cell","v":-105,"i":83},{"cell":"Excited Cell","v":-90,"i":32},{"cell":"Excited Cell","v":-75,"i":4},{"cell":"Excited Cell","v":-60,"i":0},
    {"cell":"Inhibited Cell","v":-105,"i":5},{"cell":"Inhibited Cell","v":-90,"i":2.5},{"cell":"Inhibited Cell","v":-75,"i":1},{"cell":"Inhibited Cell","v":-60,"i":0}
  ]},
  "encoding": {
    "x": {"field": "v", "type": "quantitative", "scale": {"domain": [-111, -55], "range": [288.3, 489.3], "nice": false, "zero": false},
      "axis": {"orient": "bottom", "offset": -31, "title": "Voltage (mV)", "values": [-110,-105,-100,-95,-90,-85,-80,-75,-70,-65,-60,-55], "format": "d", "labelExpr": "datum.value % 10 === 0 ? datum.label : ''", "tickSize": {"condition": {"test": "datum.value % 10 === 0", "value": 4}, "value": 2.5}, "labelFontSize": 10.5, "titleFontSize": 11.5, "labelPadding": 2, "titlePadding": 1}},
    "y": {"field": "i", "type": "quantitative", "scale": {"domain": [-10, 90], "range": [449, 356], "nice": false, "zero": false},
      "axis": {"orient": "left", "offset": -288.3, "title": "Ih (pA)", "values": [-10,0,10,20,30,40,50,60,70,80,90], "format": "d", "labelExpr": "datum.value % 20 === 0 ? datum.label : ''", "tickSize": {"condition": {"test": "datum.value % 20 === 0", "value": 4}, "value": 2.5}, "labelFontSize": 10.5, "titleFontSize": 11.5, "labelPadding": 3, "titlePadding": 5}}
  },
  "layer": [
    {"mark": {"type": "line", "color": "#000", "strokeWidth": 1.3}, "encoding": {"detail": {"field": "cell"}}},
    {"mark": {"type": "point", "shape": "square", "size": 30, "filled": true, "stroke": "#333", "strokeWidth": 1, "opacity": 1},
     "encoding": {"fill": {"field": "cell", "type": "nominal", "scale": {"domain": ["Excited Cell", "Inhibited Cell"], "range": ["#000000", "#ffffff"]},
       "legend": {"orient": "none", "legendX": 382, "legendY": 351.7, "title": null, "padding": 0, "symbolType": "M-3.6,0H-1.75M-0.85,0H1M-1.75,-0.45H-0.85V0.45H-1.75Z", "symbolSize": 128, "symbolStrokeColor": "#000", "symbolStrokeWidth": 1.3, "labelFontSize": 9, "labelFontWeight": "bold", "labelColor": "#000", "labelOffset": 2, "rowPadding": 1.4}}}}
  ]
},
{
  "encoding": {
    "x": {"field": "t", "type": "quantitative", "scale": {"domain": [-0.6, 14.45], "range": [561.7, 762.7], "nice": false, "zero": false},
      "axis": {"orient": "bottom", "offset": -59, "title": null, "values": [0,1,2,3,4,5,6,7,8,9,10,11,12,13,14], "labels": false, "tickSize": 4}},
    "y": {"field": "v", "type": "quantitative", "scale": {"domain": [-60, 40], "range": [421, 257], "nice": false, "zero": false},
      "axis": {"orient": "left", "offset": -561.7, "title": "Voltage (mV)", "values": [-60,-50,-40,-30,-20,-10,0,10,20,30,40], "format": "d", "labelExpr": "datum.value % 20 === 0 ? datum.label : ''", "tickSize": {"condition": {"test": "datum.value % 20 === 0", "value": 4.5}, "value": 2.5}, "labelFontSize": 10, "titleFontSize": 14, "labelPadding": 3, "titlePadding": 6}}
  },
  "layer": [
    {"data": {"values": [
      {"cell":"Inhibited Cell","t":-0.6,"v":-33.5},{"cell":"Inhibited Cell","t":1,"v":-32.9},{"cell":"Inhibited Cell","t":2,"v":-32.4},{"cell":"Inhibited Cell","t":3,"v":-31.8},{"cell":"Inhibited Cell","t":4,"v":-31.1},{"cell":"Inhibited Cell","t":5,"v":-30.3},{"cell":"Inhibited Cell","t":5.5,"v":-29.8},{"cell":"Inhibited Cell","t":5.8,"v":-29.3},{"cell":"Inhibited Cell","t":5.9,"v":-27},{"cell":"Inhibited Cell","t":6.01,"v":-18.6},{"cell":"Inhibited Cell","t":6.26,"v":11.9},{"cell":"Inhibited Cell","t":6.46,"v":30.2},{"cell":"Inhibited Cell","t":6.56,"v":32.9},{"cell":"Inhibited Cell","t":6.68,"v":31.5},{"cell":"Inhibited Cell","t":6.88,"v":28.2},{"cell":"Inhibited Cell","t":7.26,"v":11.9},{"cell":"Inhibited Cell","t":7.63,"v":-10.5},{"cell":"Inhibited Cell","t":8.0,"v":-30.9},{"cell":"Inhibited Cell","t":8.38,"v":-43.1},{"cell":"Inhibited Cell","t":9.0,"v":-48.8},{"cell":"Inhibited Cell","t":10.0,"v":-50.2},{"cell":"Inhibited Cell","t":11.5,"v":-50.8},{"cell":"Inhibited Cell","t":13,"v":-51.3},{"cell":"Inhibited Cell","t":14.45,"v":-51.6},
      {"cell":"Excited Cell","t":-0.6,"v":-40.2},{"cell":"Excited Cell","t":1,"v":-39.8},{"cell":"Excited Cell","t":2,"v":-39.4},{"cell":"Excited Cell","t":3,"v":-38.9},{"cell":"Excited Cell","t":4,"v":-38.4},{"cell":"Excited Cell","t":5,"v":-37.9},{"cell":"Excited Cell","t":5.6,"v":-37.5},{"cell":"Excited Cell","t":5.96,"v":-37},{"cell":"Excited Cell","t":6.05,"v":-33},{"cell":"Excited Cell","t":6.14,"v":-22.9},{"cell":"Excited Cell","t":6.34,"v":5.8},{"cell":"Excited Cell","t":6.51,"v":22},{"cell":"Excited Cell","t":6.63,"v":24.1},{"cell":"Excited Cell","t":6.75,"v":21},{"cell":"Excited Cell","t":7.0,"v":9.8},{"cell":"Excited Cell","t":7.38,"v":-14.6},{"cell":"Excited Cell","t":7.75,"v":-35},{"cell":"Excited Cell","t":8.13,"v":-44.7},{"cell":"Excited Cell","t":8.76,"v":-48.4},{"cell":"Excited Cell","t":9.75,"v":-49.6},{"cell":"Excited Cell","t":11,"v":-49.8},{"cell":"Excited Cell","t":13,"v":-49.8},{"cell":"Excited Cell","t":14.45,"v":-49.7}
    ]}, "mark": {"type": "line", "strokeWidth": 2, "interpolate": "monotone"},
     "encoding": {"stroke": {"field": "cell", "type": "nominal", "scale": {"domain": ["Excited Cell", "Inhibited Cell"], "range": ["#000000", "#888888"]},
       "legend": {"orient": "none", "legendX": 687.3, "legendY": 257.7, "title": null, "padding": 0, "symbolType": "M-3.12,0H1", "symbolSize": 100, "symbolStrokeWidth": 2, "labelFontSize": 8.5, "labelFontWeight": "bold", "labelColor": "#000", "labelOffset": 3.4, "rowPadding": 1.6}}}},
    {"data": {"values": [{"t":6,"v":-65.1,"v2":-72.6},{"t":8,"v":-65.1,"v2":-72.6}]}, "mark": {"type": "rule", "color": "#000", "strokeWidth": 1.5}, "encoding": {"y2": {"field": "v2"}}},
    {"data": {"values": [{"t":7,"v":-69.1,"label":"2 ms"}]}, "mark": {"type": "text", "color": "#000", "fontSize": 10.5}, "encoding": {"text": {"field": "label"}}},
    {"data": {"values": [{"t":4.96,"v":-21.8,"t2":5.82,"v2":-27.9},{"t":6.26,"v":-45.2,"t2":5.92,"v2":-39}]}, "mark": {"type": "rule", "color": "#000", "strokeWidth": 1.3}, "encoding": {"x2": {"field": "t2"}, "y2": {"field": "v2"}}},
    {"data": {"values": [{"t":5.78,"v":-27.6}]}, "mark": {"type": "point", "shape": "wedge", "angle": 132, "size": 45, "filled": true, "color": "#000", "opacity": 1}},
    {"data": {"values": [{"t":5.95,"v":-39.4}]}, "mark": {"type": "point", "shape": "wedge", "angle": 337, "size": 45, "filled": true, "color": "#000", "opacity": 1}},
    {"data": {"values": [{"t":4.85,"v":-18.7,"label":"-29 mV"},{"t":6.42,"v":-48.8,"label":"-37 mV"}]}, "mark": {"type": "text", "color": "#000", "fontSize": 8, "fontWeight": "bold"}, "encoding": {"text": {"field": "label"}}}
  ]
}
]
}
